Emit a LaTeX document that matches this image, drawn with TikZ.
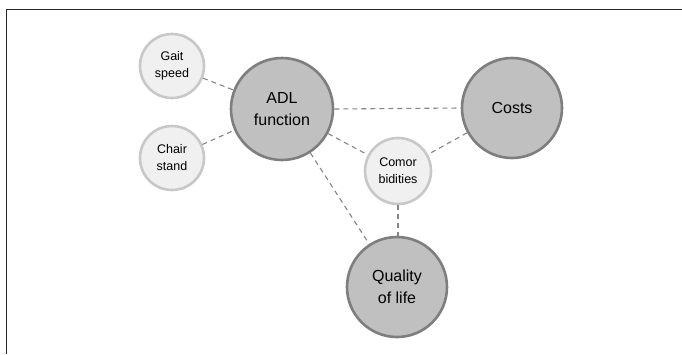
\documentclass[tikz,border=0pt]{standalone}
\usepackage{fontspec}
\setmainfont{Liberation Sans}
\begin{document}
\begin{tikzpicture}[x=1pt,y=-1pt,
  small/.style={circle,draw=smallrim,fill=smallfill,line width=2.6pt,minimum size=64pt,inner sep=0pt,align=center,font=\fontsize{12.5}{17}\selectfont,text=black},
  big/.style={circle,draw=bigrim,fill=bigfill,line width=2.6pt,minimum size=100pt,inner sep=0pt,align=center,font=\fontsize{16}{22}\selectfont,text=black},
  link/.style={draw=linkgray,line width=1.1pt,dash pattern=on 5pt off 4pt}]
\definecolor{smallrim}{HTML}{C8C8C8}
\definecolor{smallfill}{HTML}{F0F0F0}
\definecolor{bigrim}{HTML}{7E7E7E}
\definecolor{bigfill}{HTML}{C0C0C0}
\definecolor{linkgray}{HTML}{858585}
\useasboundingbox (0,0) rectangle (682,354);
\fill[white] (0,0) rectangle (682,354);
% frame: top and left rules
\draw[line width=1.5pt,black!85] (6.5,354) -- (6.5,9.5) -- (682,9.5);

\node[small] (gait) at (172,66) {Gait\\speed};
\node[small] (chair) at (172,158) {Chair\\stand};
\node[big,minimum size=102pt] (adl) at (282,109) {ADL\\function};
\node[big] (costs) at (512,108) {Costs};
\node[small,minimum size=66pt] (comor) at (398,171) {Comor\\bidities};
\node[big] (qol) at (397,287) {Quality\\of life};

\draw[link] (gait) -- (adl);
\draw[link] (chair) -- (adl);
\draw[link] (adl.east) -- (costs.west);
\draw[link] (adl) -- (comor);
\draw[link] (adl) -- (qol);
\draw[link] (costs) -- (comor);
\draw[link] (comor.south) -- (qol.north -| comor.south);
\end{tikzpicture}
\end{document}
